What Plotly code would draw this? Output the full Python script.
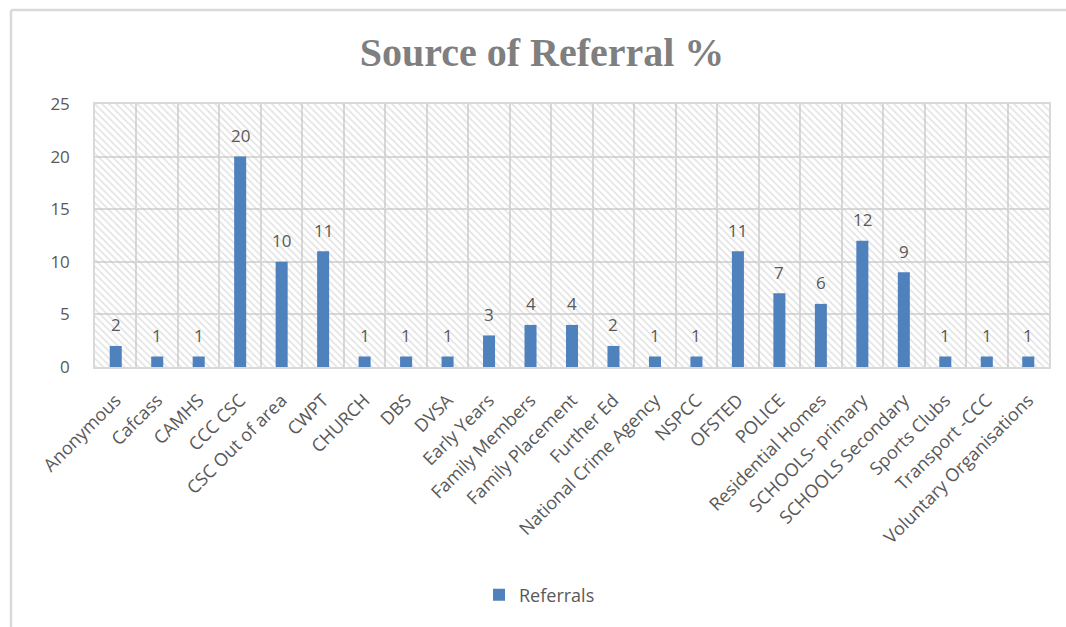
import plotly.graph_objects as go

categories = ["Anonymous", "Cafcass", "CAMHS", "CCC CSC", "CSC Out of area", "CWPT",
              "CHURCH", "DBS", "DVSA", "Early Years", "Family Members", "Family Placement",
              "Further Ed", "National Crime Agency", "NSPCC", "OFSTED", "POLICE",
              "Residential Homes", "SCHOOLS- primary", "SCHOOLS Secondary", "Sports Clubs",
              "Transport -CCC", "Voluntary Organisations"]
referrals = [2, 1, 1, 20, 10, 11, 1, 1, 1, 3, 4, 4, 2, 1, 1, 11, 7, 6, 12, 9, 1, 1, 1]
y_max = 25
y_ticks = [0, 5, 10, 15, 20, 25]

W, H = 1066, 627
L, R, T, B = 95, 17, 104, 260
pw, ph = W - L - R, H - T - B
FONT = "Open Sans, Liberation Sans, sans-serif"
GREY = "#595959"

fig = go.Figure()

# hatched plot-area background
fig.add_trace(go.Bar(
    x=categories, y=[y_max] * len(categories), width=1,
    marker=dict(color="rgba(0,0,0,0)", line=dict(width=0),
                pattern=dict(shape="\\", fgcolor="#c4c4c4", bgcolor="rgba(0,0,0,0)",
                             size=5, solidity=0.3, fillmode="overlay")),
    hoverinfo="skip", showlegend=False,
))

fig.add_trace(go.Bar(
    x=categories, y=referrals, name="Referrals", width=0.29,
    marker=dict(color="#4F81BD", line=dict(width=0)),
))

for c, v in zip(categories, referrals):
    fig.add_annotation(x=c, y=v, text=str(v), showarrow=False, yshift=21,
                       font=dict(family=FONT, size=17, color=GREY))

fig.update_layout(
    width=W, height=H,
    margin=dict(l=L, r=R, t=T, b=B),
    paper_bgcolor="white", plot_bgcolor="white",
    barmode="overlay",
    title=dict(text="<b>Source of Referral %</b>", x=(542 - L) / pw, xref="paper", xanchor="center",
               y=1 - 52 / H, yanchor="middle", yref="container",
               font=dict(family="Liberation Serif, serif", size=40, color="#7f7f7f")),
    showlegend=True,
    legend=dict(orientation="h", x=(479 - L) / pw, xanchor="left",
                y=-(595 - (T + ph)) / ph, yanchor="middle",
                font=dict(family=FONT, size=18, color=GREY),
                bgcolor="rgba(0,0,0,0)"),
    font=dict(family=FONT, color=GREY),
)

fig.update_xaxes(
    type="category", tickson="boundaries", showgrid=True, gridcolor="#d9d9d9", gridwidth=1.5,
    tickangle=-45, tickfont=dict(size=18, color=GREY), ticks="", ticklabelstandoff=14,
    showline=True, linecolor="#d9d9d9", linewidth=1.5, mirror=True,
    range=[-0.5, len(categories) - 0.5],
)
fig.update_yaxes(
    range=[0, y_max], tickvals=y_ticks, showgrid=True, gridcolor="#d9d9d9", gridwidth=1.5,
    tickfont=dict(size=17, color=GREY), ticks="", ticklabelstandoff=20,
    showline=True, linecolor="#d9d9d9", linewidth=1.5, mirror=True, zeroline=False,
)

# chart outer border (top and left edges visible)
fig.add_shape(type="line", xref="paper", yref="paper",
              x0=(11 - L) / pw, x1=(W - L) / pw, y0=(T + ph - 10) / ph, y1=(T + ph - 10) / ph,
              line=dict(color="#d9d9d9", width=2.5))
fig.add_shape(type="line", xref="paper", yref="paper",
              x0=(11 - L) / pw, x1=(11 - L) / pw, y0=(T + ph - 10) / ph, y1=-(H - T - ph) / ph,
              line=dict(color="#d9d9d9", width=2.5))

fig.write_html("out.html", config={"displayModeBar": False},
               post_script="document.body.style.margin='0';")
